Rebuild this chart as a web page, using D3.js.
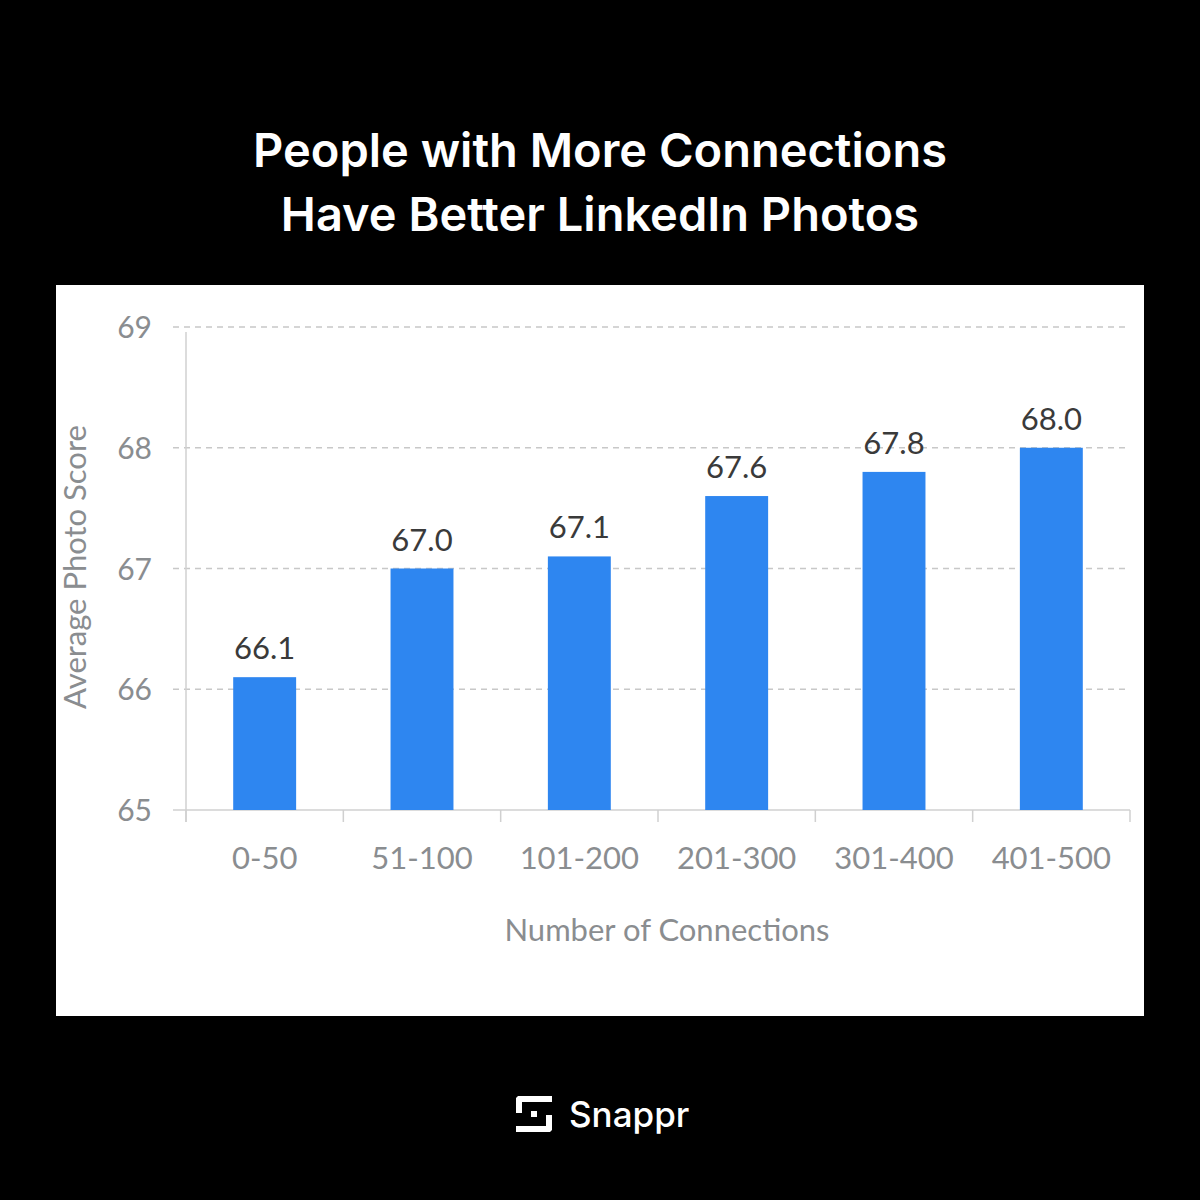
<!DOCTYPE html>
<html><head><meta charset="utf-8">
<script src="https://cdn.jsdelivr.net/npm/d3@7"></script>
<style>body{margin:0;background:#000}</style>
</head><body>
<script>
var categories = ["0-50","51-100","101-200","201-300","301-400","401-500"];
var scores = [66.1, 67.0, 67.1, 67.6, 67.8, 68.0];
var yTicks = [65, 66, 67, 68, 69];

var svg = d3.select("body").append("svg").attr("width",1200).attr("height",1200);
svg.append("rect").attr("width",1200).attr("height",1200).attr("fill","#000");

var title = ["People with More Connections","Have Better LinkedIn Photos"];
svg.selectAll("text.title").data(title).enter().append("text")
	.attr("x",600).attr("y",function(d,i){return 167+i*64;})
	.attr("text-anchor","middle").attr("fill","#fff")
	.attr("font-family","Inter, 'Open Sans', sans-serif").attr("font-weight",600).attr("font-size",47)
	.text(function(d){return d;});

svg.append("rect").attr("x",56).attr("y",285).attr("width",1088).attr("height",731).attr("fill","#fff");

var x = d3.scaleBand().domain(categories).range([186,1130]).paddingInner(0.6).paddingOuter(0.3);
var xb = d3.scaleBand().domain(categories).range([186,1130]);
var y = d3.scaleLinear().domain([65,69]).range([810,327]);
var font = "Lato, 'Noto Sans', sans-serif";

// grid
svg.selectAll("line.grid").data(yTicks.slice(1)).enter().append("line")
	.attr("x1",173).attr("x2",1130).attr("y1",function(d){return y(d);}).attr("y2",function(d){return y(d);})
	.attr("stroke","#c8c8c8").attr("stroke-width",1.3).attr("stroke-dasharray","6,5");
svg.selectAll("text.ytick").data(yTicks).enter().append("text")
	.attr("x",152).attr("y",function(d){return y(d)+11;}).attr("text-anchor","end")
	.attr("fill","#8a8d90").attr("font-family",font).attr("font-size",30).text(function(d){return d;});
svg.append("line").attr("x1",186).attr("x2",186).attr("y1",332).attr("y2",822).attr("stroke","#d0d0d0").attr("stroke-width",1.5);
svg.append("line").attr("x1",173).attr("x2",1130).attr("y1",810).attr("y2",810).attr("stroke","#d0d0d0").attr("stroke-width",1.5);
svg.selectAll("line.xt").data(categories.concat(["end"])).enter().append("line")
	.attr("x1",function(d,i){return 186+i*xb.bandwidth();}).attr("x2",function(d,i){return 186+i*xb.bandwidth();})
	.attr("y1",810).attr("y2",822).attr("stroke","#d0d0d0").attr("stroke-width",1.5);

// bars
svg.selectAll("rect.bar").data(scores).enter().append("rect")
	.attr("x",function(d,i){return x(categories[i]);}).attr("width",x.bandwidth())
	.attr("y",function(d){return y(d);}).attr("height",function(d){return y(65)-y(d);})
	.attr("fill","#2e86f0");
svg.selectAll("text.val").data(scores).enter().append("text")
	.attr("x",function(d,i){return x(categories[i])+x.bandwidth()/2;}).attr("y",function(d){return y(d)-18;})
	.attr("text-anchor","middle").attr("fill","#3a3a3a").attr("font-family",font).attr("font-size",31)
	.text(function(d){return d.toFixed(1);});
svg.selectAll("text.cat").data(categories).enter().append("text")
	.attr("x",function(d){return xb(d)+xb.bandwidth()/2;}).attr("y",869).attr("text-anchor","middle")
	.attr("fill","#8a8d90").attr("font-family",font).attr("font-size",31).text(function(d){return d;});

svg.append("text").attr("x",667).attr("y",941).attr("text-anchor","middle").attr("fill","#8a8d90")
	.attr("font-family",font).attr("font-size",31).text("Number of Connections");
svg.append("text").attr("transform","translate(86,567) rotate(-90)").attr("text-anchor","middle").attr("fill","#8a8d90")
	.attr("font-family",font).attr("font-size",31).text("Average Photo Score");

// logo
var g = svg.append("g").attr("transform","translate(516,1096)");
g.append("path").attr("d","M2,0H36V6H6V17H0V2Z").attr("fill","#fff");
g.append("path").attr("d","M34,36H0V30H30V19H36V34Z").attr("fill","#fff");
g.append("rect").attr("x",15).attr("y",15).attr("width",6).attr("height",6).attr("fill","#fff");
svg.append("text").attr("x",569).attr("y",1127).attr("fill","#fff").attr("font-family","Inter, sans-serif")
	.attr("font-weight",500).attr("font-size",35).text("Snappr");
</script>
</body></html>
